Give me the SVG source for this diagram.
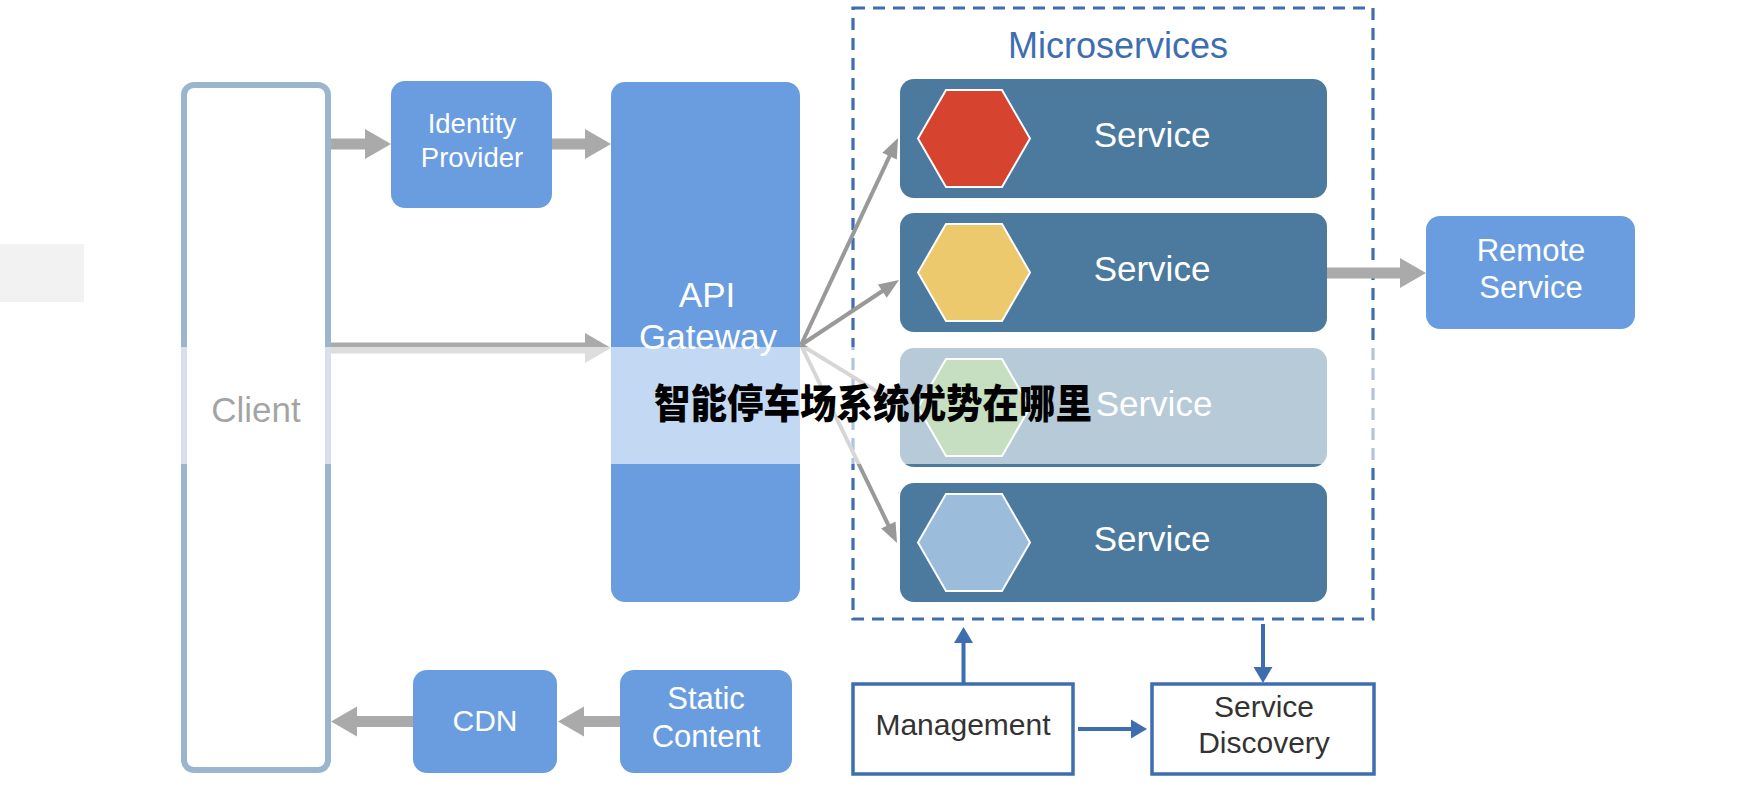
<svg xmlns="http://www.w3.org/2000/svg" width="1744" height="812" viewBox="0 0 1744 812">
  <style>
    text { font-family: "Liberation Sans", Arial, sans-serif; text-anchor: middle; }
    .wt { fill: #ffffff; }
    .dk { fill: #333333; }
    .blue { fill: #6a9ddf; }
    .svc { fill: #4b7a9e; }
    .gshaft { stroke: #aaaaaa; stroke-width: 11; fill: none; }
    .garrow { stroke: #999999; stroke-width: 4; fill: none; }
    .barrow { stroke: #3e6db0; stroke-width: 4; fill: none; }
    .outline { fill: #ffffff; stroke: #3e6db0; stroke-width: 3.5; }
    .hex { stroke: #ffffff; stroke-width: 2; }
  </style>
  <defs>
    <marker id="grayHead" markerUnits="userSpaceOnUse" markerWidth="27" markerHeight="30" refX="0" refY="15" orient="auto" overflow="visible">
      <path d="M0,0 L26,15 L0,30 Z" fill="#aaaaaa"/>
    </marker>
    <marker id="thinHead" markerUnits="userSpaceOnUse" markerWidth="21" markerHeight="16" refX="2" refY="8" orient="auto" overflow="visible">
      <path d="M0,0 L20,8 L0,16 Z" fill="#999999"/>
    </marker>
    <marker id="blueHead" markerUnits="userSpaceOnUse" markerWidth="17" markerHeight="19" refX="1" refY="9.5" orient="auto" overflow="visible">
      <path d="M0,0 L16,9.5 L0,19 Z" fill="#3e6db0"/>
    </marker>
    <polygon id="hexShape" points="-56,0 -28,-48.5 28,-48.5 56,0 28,48.5 -28,48.5"/>
  </defs>

  <rect id="side-block" x="0" y="244" width="84" height="58" fill="#f2f2f2"/>

  <g id="client">
    <rect x="184" y="85" width="144" height="685" rx="10" fill="#ffffff" stroke="#9bb5cc" stroke-width="6"/>
    <text x="256" y="422" font-size="35" fill="#1a1a1a">Client</text>
  </g>

  <g id="identity-provider">
    <rect class="blue" x="391" y="81" width="161" height="127" rx="14"/>
    <text class="wt" x="472" y="133" font-size="27.5">Identity</text>
    <text class="wt" x="472" y="167" font-size="27.5">Provider</text>
  </g>

  <g id="api-gateway">
    <rect class="blue" x="611" y="82" width="189" height="520" rx="14"/>
    <text class="wt" x="707" y="307" font-size="35">API</text>
    <text class="wt" x="708" y="349" font-size="35">Gateway</text>
  </g>

  <g id="microservices">
    <rect x="853" y="8" width="520" height="611" fill="none" stroke="#3e6db0" stroke-width="3.2" stroke-dasharray="12 8"/>
    <text x="1118" y="58" font-size="36" fill="#3e6db0">Microservices</text>
  </g>

  <g id="service-1">
    <rect class="svc" x="900" y="79" width="427" height="119" rx="14"/>
    <use href="#hexShape" x="974" y="138.5" fill="#d64430" class="hex"/>
    <text class="wt" x="1152" y="147" font-size="35">Service</text>
  </g>
  <g id="service-2">
    <rect class="svc" x="900" y="213" width="427" height="119" rx="14"/>
    <use href="#hexShape" x="974" y="272.5" fill="#ebc96c" class="hex"/>
    <text class="wt" x="1152" y="281" font-size="35">Service</text>
  </g>
  <g id="service-3">
    <rect class="svc" x="900" y="348" width="427" height="119" rx="14"/>
    <use href="#hexShape" x="974" y="407.5" fill="#70af61" class="hex"/>
    <text class="wt" x="1154" y="416" font-size="35">Service</text>
  </g>
  <g id="service-4">
    <rect class="svc" x="900" y="483" width="427" height="119" rx="14"/>
    <use href="#hexShape" x="974" y="542.5" fill="#9bbcda" class="hex"/>
    <text class="wt" x="1152" y="551" font-size="35">Service</text>
  </g>

  <g id="remote-service">
    <rect class="blue" x="1426" y="216" width="209" height="113" rx="14"/>
    <text class="wt" x="1531" y="261" font-size="31">Remote</text>
    <text class="wt" x="1531" y="298" font-size="31">Service</text>
  </g>

  <g id="cdn">
    <rect class="blue" x="413" y="670" width="144" height="103" rx="14"/>
    <text class="wt" x="485" y="731" font-size="30">CDN</text>
  </g>

  <g id="static-content">
    <rect class="blue" x="620" y="670" width="172" height="103" rx="14"/>
    <text class="wt" x="706" y="709" font-size="31">Static</text>
    <text class="wt" x="706" y="747" font-size="31">Content</text>
  </g>

  <g id="management">
    <rect class="outline" x="853" y="684" width="220" height="90"/>
    <text class="dk" x="963" y="735" font-size="30">Management</text>
  </g>

  <g id="service-discovery">
    <rect class="outline" x="1152" y="684" width="222" height="90"/>
    <text class="dk" x="1264" y="717" font-size="30">Service</text>
    <text class="dk" x="1264" y="753" font-size="30">Discovery</text>
  </g>

  <g id="connectors">
    <line class="gshaft" x1="331" y1="144" x2="365" y2="144" marker-end="url(#grayHead)"/>
    <line class="gshaft" x1="552" y1="144" x2="585" y2="144" marker-end="url(#grayHead)"/>
    <line class="gshaft" x1="331" y1="348" x2="585" y2="348" marker-end="url(#grayHead)"/>
    <line class="gshaft" x1="1327" y1="273" x2="1400" y2="273" marker-end="url(#grayHead)"/>
    <line class="gshaft" x1="413" y1="721.5" x2="357" y2="721.5" marker-end="url(#grayHead)"/>
    <line class="gshaft" x1="620" y1="721.5" x2="584" y2="721.5" marker-end="url(#grayHead)"/>

    <line class="garrow" x1="801" y1="345" x2="890.4" y2="154.3" marker-end="url(#thinHead)"/>
    <line class="garrow" x1="801" y1="345" x2="884" y2="290" marker-end="url(#thinHead)"/>
    <line class="garrow" x1="801" y1="345" x2="883.6" y2="395.6" marker-end="url(#thinHead)"/>
    <line class="garrow" x1="801" y1="345" x2="889.2" y2="526.8" marker-end="url(#thinHead)"/>

    <line class="barrow" x1="963.5" y1="684" x2="963.5" y2="642" marker-end="url(#blueHead)"/>
    <line class="barrow" x1="1263" y1="624" x2="1263" y2="668" marker-end="url(#blueHead)"/>
    <line class="barrow" x1="1078" y1="729" x2="1132" y2="729" marker-end="url(#blueHead)"/>
  </g>

  <rect id="band" x="0" y="347" width="1744" height="117" fill="#ffffff" fill-opacity="0.6"/>

  <text id="title" x="654" y="418" font-size="40" font-weight="900" fill="#000000" textLength="438" lengthAdjust="spacingAndGlyphs" style="text-anchor:start; font-family:'Noto Sans CJK SC', 'Noto Sans CJK JP', sans-serif;">智能停车场系统优势在哪里</text>
</svg>
